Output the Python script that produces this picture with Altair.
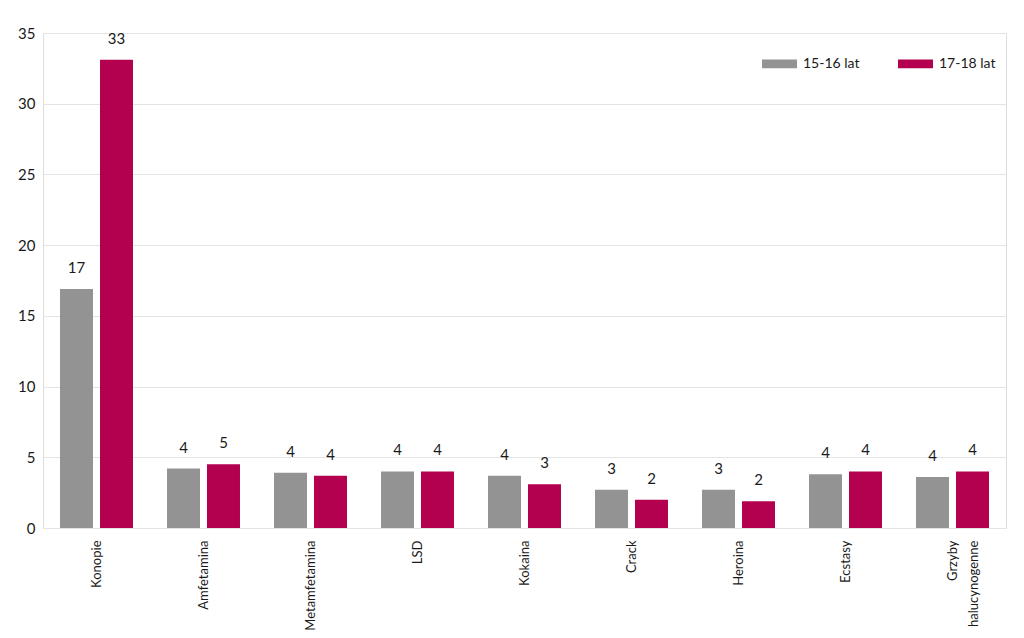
import altair as alt
import pandas as pd

categories = ["Konopie", "Amfetamina", "Metamfetamina", "LSD", "Kokaina",
              "Crack", "Heroina", "Ecstasy", "Grzyby halucynogenne"]
series_names = ["15-16 lat", "17-18 lat"]
values_15_16 = [16.9, 4.2, 3.9, 4.0, 3.7, 2.7, 2.7, 3.8, 3.6]
values_17_18 = [33.1, 4.5, 3.7, 4.0, 3.1, 2.0, 1.9, 4.0, 4.0]
y_ticks = [0, 5, 10, 15, 20, 25, 30, 35]
colors = ["#939393", "#b3004f"]

rows = []
for c, a, b in zip(categories, values_15_16, values_17_18):
    rows.append({"cat": c, "series": series_names[0], "value": a})
    rows.append({"cat": c, "series": series_names[1], "value": b})
df = pd.DataFrame(rows)

FONT = "Lato"

x = alt.X("cat:N", sort=categories,
          scale=alt.Scale(paddingInner=0.318, paddingOuter=0.159),
          axis=alt.Axis(title=None, labelAngle=-90, labelPadding=12,
                        labelFont=FONT, labelFontSize=13, labelColor="#1a1a1a",
                        ticks=False, domain=False, grid=False, labelLineHeight=21,
                        labelExpr="split(datum.label, ' ')"))
xo = alt.XOffset("series:N", sort=series_names,
                 scale=alt.Scale(paddingInner=0.175, paddingOuter=0))
y = alt.Y("value:Q",
          scale=alt.Scale(domain=[0, 35], nice=False),
          axis=alt.Axis(title=None, values=y_ticks, labelFont=FONT, labelFontSize=15,
                        labelColor="#1a1a1a", labelPadding=8, ticks=False,
                        domain=False, gridColor="#e4e4e4", gridWidth=1))
color = alt.Color("series:N", sort=series_names,
                  scale=alt.Scale(domain=series_names, range=colors),
                  legend=alt.Legend(title=None, orient="none", direction="horizontal",
                                    legendX=719, legendY=13, padding=0,
                                    symbolType="M-1,-0.25L1,-0.25L1,0.25L-1,0.25Z",
                                    symbolSize=1225, symbolStrokeWidth=0,
                                    labelFont=FONT, labelFontSize=14, labelColor="#1a1a1a",
                                    labelOffset=6, columnPadding=38))

bars = alt.Chart(df).mark_bar().encode(x=x, xOffset=xo, y=y, color=color)
labels = alt.Chart(df).mark_text(baseline="alphabetic", dy=-16, font=FONT,
                                 fontSize=15, color="#1a1a1a").encode(
    x=x, xOffset=xo, y="value:Q", text=alt.Text("value:Q", format=".0f"))

chart = (bars + labels).properties(
    width=963, height=495,
    autosize=alt.AutoSizeParams(type="none"),
    padding={"left": 35, "top": 25, "right": 10, "bottom": 105},
).configure_view(stroke=None).configure(background="white")

chart.save("out.html", embed_options={"renderer": "svg", "actions": False})
